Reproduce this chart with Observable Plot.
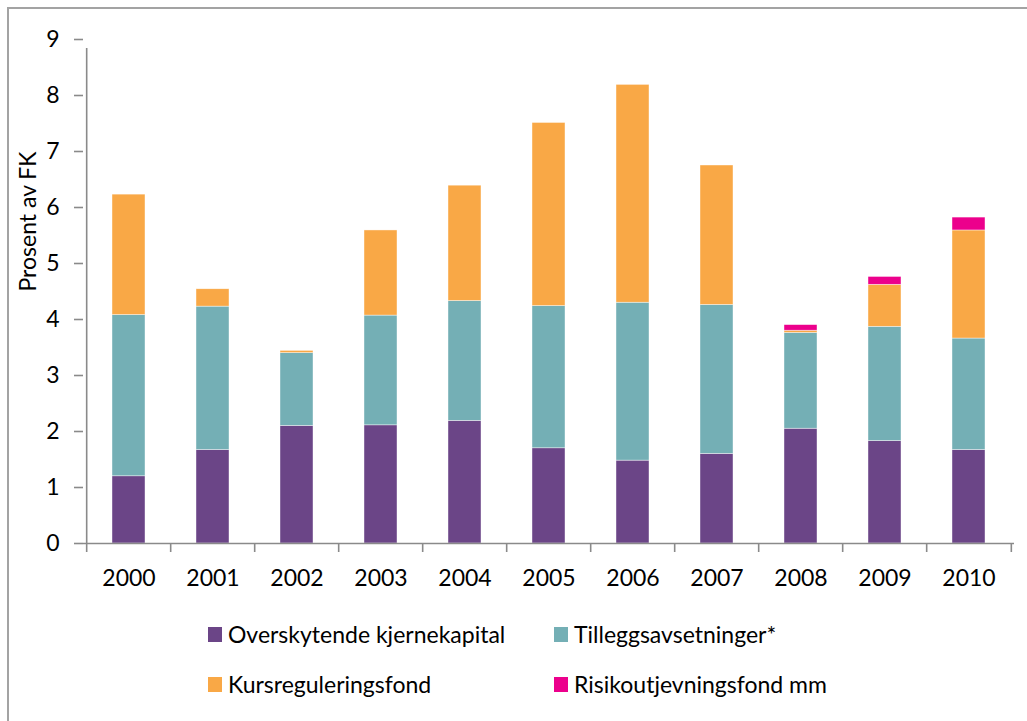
<!DOCTYPE html>
<html>
<head>
<meta charset="utf-8">
<script src="https://cdn.jsdelivr.net/npm/d3@7"></script>
<script src="https://cdn.jsdelivr.net/npm/@observablehq/plot@0.6"></script>
<style>
  body { margin: 0; background: #fff; font-family: Lato, "Open Sans", sans-serif; }
  #wrap { position: relative; width: 1027px; height: 721px; overflow: hidden; background: #fff; }
  #border { position: absolute; left: 7px; top: 7px; width: 1100px; height: 800px;
            border-top: 2px solid #a3a3a3; border-left: 2px solid #a3a3a3; }
  #chart { position: absolute; left: 0; top: 0; }
  .item { position: absolute; display: flex; align-items: center; font-size: 23px; color: #000; white-space: nowrap; }
  .sw { width: 14px; height: 15px; margin-right: 6px; flex: none; }
</style>
</head>
<body>
<div id="wrap">
  <div id="border"></div>
  <div id="chart"></div>
  <div id="legend"></div>
</div>
<script>
const years = ["2000","2001","2002","2003","2004","2005","2006","2007","2008","2009","2010"];
const seriesNames = ["Overskytende kjernekapital","Tilleggsavsetninger*","Kursreguleringsfond","Risikoutjevningsfond mm"];
const seriesColors = ["#6B4587","#74AFB5","#F9A846","#EC008C"];
const kjernekapital = [1.20, 1.67, 2.10, 2.11, 2.19, 1.70, 1.48, 1.60, 2.05, 1.83, 1.67];
const tillegg       = [2.88, 2.56, 1.30, 1.96, 2.14, 2.54, 2.82, 2.66, 1.71, 2.04, 1.99];
const kursreg       = [2.15, 0.31, 0.04, 1.52, 2.06, 3.27, 3.89, 2.49, 0.04, 0.75, 1.93];
const risiko        = [0, 0, 0, 0, 0, 0, 0, 0, 0.10, 0.14, 0.23];
const yTicks = [0,1,2,3,4,5,6,7,8,9];
const yTitle = "Prosent av FK";

const seriesValues = [kjernekapital, tillegg, kursreg, risiko];
const data = [];
seriesNames.forEach((s, si) => years.forEach((y, i) => data.push({year: y, series: s, value: seriesValues[si][i]})));

const W = 1027, H = 600, mL = 83, mR = 13, mT = 39, mB = 57;
const step = (W - mL - mR) / years.length;
const axisColor = "#8a8a8a";

const chart = Plot.plot({
  width: W, height: H,
  marginLeft: mL, marginRight: mR, marginTop: mT, marginBottom: mB,
  style: {fontFamily: "Lato, 'Open Sans', sans-serif", background: "transparent", color: "#000"},
  x: {domain: years, paddingInner: 0.605, paddingOuter: 0.3025, label: null},
  y: {domain: [0, 9], label: null},
  color: {domain: seriesNames, range: seriesColors},
  marks: [
    Plot.barY(data, {x: "year", y: "value", fill: "series", stroke: "#fff", strokeWidth: 0.6, strokeOpacity: 0.7}),
    Plot.ruleY([0], {stroke: axisColor, strokeWidth: 1.6}),
    Plot.ruleX([years[0]], {x: d => d, y1: 0, y2: 9, insetBottom: -9, dx: -step / 2, stroke: axisColor, strokeWidth: 1.6}),
    Plot.ruleX(years, {x: d => d, y1: 0, y2: 0, insetBottom: -9, dx: -step / 2, stroke: axisColor, strokeWidth: 1.6}),
    Plot.ruleX([years[years.length - 1]], {x: d => d, y1: 0, y2: 0, insetBottom: -9, dx: step / 2, stroke: axisColor, strokeWidth: 1.6}),
    Plot.axisY({ticks: yTicks, tickSize: 9, tickPadding: 15, fontSize: 23, stroke: axisColor, strokeWidth: 1.6, fill: "#000", label: null}),
    Plot.axisX({tickSize: 0, tickPadding: 26, fontSize: 23, fill: "#000", label: null}),
    Plot.text([yTitle], {frameAnchor: "left", rotate: -90, dx: -55, fontSize: 23, fill: "#000"})
  ]
});
document.getElementById("chart").append(chart);

const legendPos = [[208, 627], [554, 627], [208, 677], [554, 677]];
const legend = document.getElementById("legend");
seriesNames.forEach((s, i) => {
  const it = document.createElement("div");
  it.className = "item";
  it.style.left = legendPos[i][0] + "px";
  it.style.top = (legendPos[i][1] - 7) + "px";
  const sw = document.createElement("span");
  sw.className = "sw";
  sw.style.background = seriesColors[i];
  const tx = document.createElement("span");
  tx.textContent = s;
  it.append(sw, tx);
  legend.append(it);
});
</script>
</body>
</html>
